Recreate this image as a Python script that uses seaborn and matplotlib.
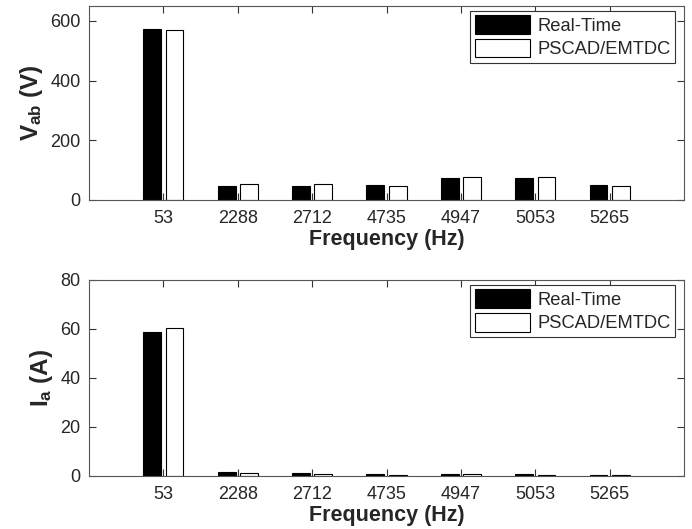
import numpy as np
import pandas as pd
import matplotlib.pyplot as plt
import seaborn as sns

# Dados
freqs = ['53', '2288', '2712', '4735', '4947', '5053', '5265']
series = ['Real-Time', 'PSCAD/EMTDC']
vab_rt = [572, 48, 48, 50, 72, 72, 50]
vab_ps = [570, 54, 54, 46, 76, 76, 46]
ia_rt = [58.9, 1.5, 1.2, 0.8, 1.0, 0.8, 0.6]
ia_ps = [60.5, 1.3, 1.0, 0.6, 0.7, 0.6, 0.5]


def long_df(rt, ps):
    return pd.DataFrame({
        'freq': freqs * 2,
        'serie': [series[0]] * len(freqs) + [series[1]] * len(freqs),
        'val': list(rt) + list(ps),
    })


sns.set_style('white')
plt.rcParams['font.family'] = ['Liberation Sans', 'DejaVu Sans']
plt.rcParams['mathtext.fontset'] = 'custom'
plt.rcParams['mathtext.rm'] = 'Liberation Sans'
plt.rcParams['mathtext.bf'] = 'Liberation Sans:bold'
plt.rcParams['mathtext.it'] = 'Liberation Sans:italic'

fig = plt.figure(figsize=(6.92, 5.29), dpi=100)
ax1 = fig.add_axes([0.1286, 0.622, 0.860, 0.3667])
ax2 = fig.add_axes([0.1286, 0.1002, 0.860, 0.3705])

palette = {series[0]: 'black', series[1]: 'white'}

for ax, rt, ps, ylim, yticks, ylab in [
    (ax1, vab_rt, vab_ps, (0, 650), [0, 200, 400, 600], r'$\mathbf{V_{ab}}$ (V)'),
    (ax2, ia_rt, ia_ps, (0, 80), [0, 20, 40, 60, 80], r'$\mathbf{I_{a}}$ (A)'),
]:
    sns.barplot(data=long_df(rt, ps), x='freq', y='val', hue='serie',
                palette=palette, edgecolor='black', linewidth=0.8,
                width=0.6, gap=0.2, ax=ax)
    ax.set_xlim(-1, 7)
    ax.set_ylim(*ylim)
    ax.set_yticks(yticks)
    ax.set_xlabel('Frequency (Hz)', fontsize=15.5, fontweight='bold', labelpad=2)
    ax.set_ylabel(ylab, fontsize=17.5, fontweight='bold', labelpad=4)
    ax.tick_params(direction='in', top=True, right=True, bottom=True, left=True,
                   length=5, width=0.8, labelsize=13, color='#333333')
    ax.tick_params(axis='x', pad=7)
    ax.tick_params(axis='y', pad=6)
    for s in ax.spines.values():
        s.set_linewidth(0.8)
        s.set_color('#555555')
        s.set_visible(True)
    leg = ax.legend(loc='upper right', fontsize=13.2, frameon=True,
                    fancybox=False, edgecolor='#333333', framealpha=1,
                    handlelength=3.0, handleheight=1.2, borderpad=0.25,
                    labelspacing=0.2, handletextpad=0.4,
                    bbox_to_anchor=(0.985, 0.975), borderaxespad=0)
    leg.get_frame().set_linewidth(0.8)

fig.savefig('out.png', dpi=100)
